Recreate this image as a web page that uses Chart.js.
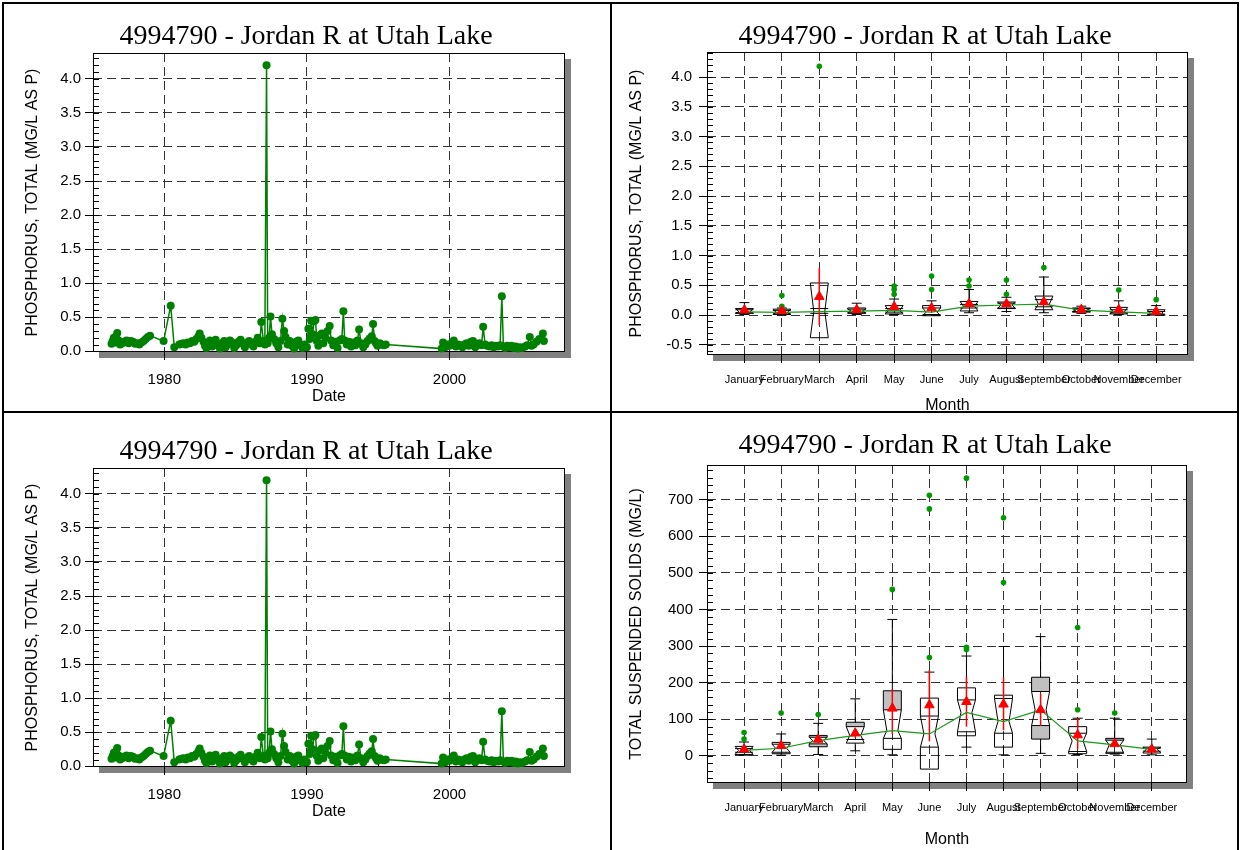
<!DOCTYPE html>
<html>
<head>
<meta charset="utf-8">
<script src="https://cdn.jsdelivr.net/npm/chart.js@4.4.1/dist/chart.umd.min.js"></script>
<style>
  body { margin: 0; background: #fff; width: 1241px; height: 850px; overflow: hidden; position: relative; }
  canvas { position: absolute; }
  .rule { position: absolute; background: #000; z-index: 5; }
</style>
</head>
<body>
<canvas id="tl" width="606" height="408" style="left:3px;top:3px"></canvas>
<canvas id="tr" width="624" height="414" style="left:613px;top:3px"></canvas>
<canvas id="bl" width="606" height="408" style="left:3px;top:418px"></canvas>
<canvas id="br" width="624" height="438" style="left:613px;top:412px"></canvas>

<div class="rule" style="left:2px;top:2px;width:1237px;height:2px"></div>
<div class="rule" style="left:2px;top:2px;width:2px;height:848px"></div>
<div class="rule" style="left:1237px;top:2px;width:2px;height:848px"></div>
<div class="rule" style="left:610px;top:2px;width:2px;height:848px"></div>
<div class="rule" style="left:2px;top:411px;width:1237px;height:2px"></div>

<script>
/* data */
const sampleYears = [
  1976.30, 1976.38, 1976.46, 1976.55, 1976.62, 1976.70, 1976.80, 1976.90, 1977.05, 1977.20, 1977.35, 1977.50, 1977.65, 1977.80, 1977.95, 1978.10, 1978.25, 1978.40, 1978.55, 1978.70, 1978.85, 1979.00, 1979.95, 1980.45, 1980.70,
  1981.05, 1981.20, 1981.35, 1981.50, 1981.65, 1981.80, 1981.95, 1982.10, 1982.25, 1982.40, 1982.48, 1982.60, 1982.75, 1982.85, 1982.95, 1983.05, 1983.20, 1983.35, 1983.45, 1983.60, 1983.75, 1983.90,
  1984.05, 1984.20, 1984.30, 1984.45, 1984.60, 1984.75, 1984.90, 1985.05, 1985.20, 1985.35, 1985.50, 1985.65, 1985.80, 1985.95, 1986.10, 1986.25, 1986.40, 1986.55, 1986.70, 1986.80, 1986.95, 1987.05, 1987.17, 1987.25, 1987.35, 1987.45, 1987.55, 1987.70, 1987.85, 1988.00, 1988.15, 1988.28, 1988.40, 1988.50, 1988.65, 1988.80, 1988.95, 1989.10, 1989.25, 1989.40, 1989.55, 1989.70, 1989.85,
  1990.00, 1990.10, 1990.20, 1990.30, 1990.40, 1990.50, 1990.60, 1990.70, 1990.80, 1990.95, 1991.05, 1991.15, 1991.30, 1991.45, 1991.60, 1991.70, 1991.85, 1992.00, 1992.15, 1992.30, 1992.45, 1992.56, 1992.65, 1992.80, 1992.95, 1993.10, 1993.25, 1993.40, 1993.55, 1993.66, 1993.80, 1993.95, 1994.10, 1994.25, 1994.40, 1994.55, 1994.64, 1994.75, 1994.85, 1994.95, 1995.10, 1995.25, 1995.40, 1995.53,
  1999.45, 1999.55, 1999.70, 1999.85, 2000.00, 2000.15, 2000.30, 2000.45, 2000.60, 2000.75, 2000.90, 2001.05, 2001.20, 2001.35, 2001.50, 2001.65, 2001.80, 2001.95, 2002.10, 2002.25, 2002.36, 2002.50, 2002.65, 2002.80, 2002.95, 2003.10, 2003.25, 2003.40, 2003.55, 2003.67, 2003.78, 2003.90, 2004.05, 2004.20, 2004.35, 2004.50, 2004.65, 2004.80, 2004.95, 2005.10, 2005.30, 2005.45, 2005.63, 2005.75, 2005.90, 2006.10, 2006.30, 2006.55, 2006.62
];
const phosphorus = [
  0.11, 0.15, 0.20, 0.13, 0.22, 0.27, 0.16, 0.10, 0.12, 0.14, 0.16, 0.12, 0.15, 0.14, 0.11, 0.12, 0.10, 0.13, 0.15, 0.18, 0.21, 0.23, 0.15, 0.67, 0.06,
  0.10, 0.11, 0.12, 0.10, 0.13, 0.12, 0.15, 0.14, 0.18, 0.22, 0.26, 0.20, 0.14, 0.08, 0.05, 0.12, 0.16, 0.07, 0.14, 0.17, 0.09, 0.04,
  0.12, 0.15, 0.06, 0.10, 0.16, 0.13, 0.05, 0.09, 0.14, 0.17, 0.11, 0.06, 0.13, 0.15, 0.10, 0.07, 0.14, 0.20, 0.12, 0.43, 0.15, 0.10, 4.20, 0.12, 0.20, 0.51, 0.25, 0.18, 0.12, 0.06, 0.15, 0.48, 0.30, 0.21, 0.10, 0.15, 0.08, 0.04, 0.14, 0.16, 0.09, 0.05, 0.10,
  0.06, 0.33, 0.18, 0.45, 0.25, 0.44, 0.46, 0.15, 0.08, 0.24, 0.26, 0.12, 0.20, 0.30, 0.37, 0.16, 0.09, 0.14, 0.05, 0.16, 0.18, 0.59, 0.16, 0.10, 0.14, 0.07, 0.13, 0.09, 0.16, 0.32, 0.12, 0.06, 0.10, 0.15, 0.19, 0.22, 0.40, 0.15, 0.12, 0.08, 0.12, 0.10, 0.09, 0.10,
  0.04, 0.13, 0.06, 0.10, 0.08, 0.12, 0.16, 0.07, 0.10, 0.09, 0.06, 0.10, 0.12, 0.08, 0.14, 0.15, 0.06, 0.10, 0.12, 0.09, 0.36, 0.10, 0.08, 0.07, 0.09, 0.06, 0.08, 0.07, 0.09, 0.81, 0.07, 0.05, 0.08, 0.06, 0.08, 0.05, 0.07, 0.04, 0.06, 0.05, 0.07, 0.09, 0.21, 0.08, 0.10, 0.14, 0.18, 0.26, 0.15
];
const yearTicks = [1980, 1990, 2000];
const yearMinor = [1985, 1995, 2005];
const phosTicks = [0, 0.5, 1.0, 1.5, 2.0, 2.5, 3.0, 3.5, 4.0];

const monthNames = ['January', 'February', 'March', 'April', 'May', 'June', 'July', 'August', 'September', 'October', 'November', 'December'];
const monthNums = [1, 2, 3, 4, 5, 6, 7, 8, 9, 10, 11, 12];

// total phosphorus by month
const tpQ1      = [0.04, 0.02, 0.03, 0.03, 0.05, 0.01, 0.12, 0.12, 0.14, 0.05, 0.04, 0.015];
const tpQ3      = [0.09, 0.08, 0.11, 0.12, 0.11, 0.16, 0.18, 0.20, 0.26, 0.12, 0.09, 0.06];
const tpNotchLo = [0.03, 0.01, -0.38, 0.04, 0.02, -0.01, 0.07, 0.11, 0.09, 0.06, 0.02, 0.0];
const tpNotchHi = [0.11, 0.10, 0.54, 0.10, 0.16, 0.12, 0.23, 0.22, 0.32, 0.11, 0.13, 0.09];
const tpMedian  = [0.056, 0.045, 0.06, 0.067, 0.078, 0.05, 0.15, 0.17, 0.185, 0.085, 0.056, 0.03];
const tpWhiskLo = [0.01, 0.005, 0.01, 0.01, 0.01, 0.0, 0.04, 0.06, 0.04, 0.03, 0.01, 0.005];
const tpWhiskHi = [0.21, 0.12, 0.20, 0.20, 0.27, 0.24, 0.43, 0.30, 0.64, 0.15, 0.24, 0.16];
const tpMean    = [0.084, 0.07, 0.31, 0.09, 0.14, 0.12, 0.19, 0.19, 0.22, 0.09, 0.09, 0.06];
const tpMeanLo  = [0.06, 0.05, -0.17, 0.07, 0.10, 0.08, 0.15, 0.15, 0.17, 0.08, 0.06, 0.04];
const tpMeanHi  = [0.11, 0.09, 0.79, 0.11, 0.18, 0.16, 0.23, 0.23, 0.27, 0.10, 0.12, 0.08];
const tpShadeHi = [0, 0, 0, 0, 0, 0, 0, 0, 0, 0, 0, 0];
const tpShadeLo = [0, 0, 0, 0, 0, 0, 0, 0, 0, 0, 0, 0];
const tpOutMonth = [2, 2, 3, 5, 5, 5, 6, 6, 7, 7, 8, 8, 9, 11, 12];
const tpOutValue = [0.15, 0.33, 4.18, 0.35, 0.43, 0.49, 0.43, 0.655, 0.49, 0.59, 0.35, 0.59, 0.80, 0.42, 0.26];
const tpTicks = [-0.5, 0, 0.5, 1.0, 1.5, 2.0, 2.5, 3.0, 3.5, 4.0];

// total suspended solids by month
const tssQ1      = [10, 6, 25, 45, 18, -36, 55, 24, 46, 6, 10, 13];
const tssQ3      = [20, 37, 56, 92, 178, 158, 186, 166, 215, 80, 48, 21];
const tssNotchLo = [4, 10, 33, 35, 48, 24, 66, 62, 83, 12, 7, 8];
const tssNotchHi = [26, 32, 51, 80, 126, 109, 153, 157, 176, 62, 43, 24];
const tssMedian  = [15, 21, 42, 56, 69, 60, 119, 94, 126, 41, 30, 18];
const tssWhiskLo = [2, 2, 4, 14, 3, 3, 24, 3, 7, 4, 5, 3];
const tssWhiskHi = [38, 60, 89, 156, 373, 229, 273, 299, 326, 103, 103, 46];
const tssMean    = [18, 28, 45, 62, 130, 139, 148, 141, 126, 57, 33, 18];
const tssMeanLo  = [12, 18, 35, 50, 60, 40, 80, 70, 82, 18, 25, 14];
const tssMeanHi  = [24, 38, 55, 75, 182, 235, 217, 215, 171, 103, 41, 22];
const tssShadeHi = [0, 0, 1, 1, 1, 0, 0, 0, 1, 0, 1, 0];
const tssShadeLo = [0, 0, 1, 0, 0, 0, 0, 0, 1, 0, 0, 0];
const tssOutMonth = [1, 1, 2, 3, 5, 6, 6, 6, 7, 7, 7, 8, 8, 10, 10, 11];
const tssOutValue = [46, 64, 117, 113, 455, 269, 675, 712, 291, 297, 759, 474, 651, 126, 351, 117];
const tssTicks = [0, 100, 200, 300, 400, 500, 600, 700];

const TITLE = '4994790 - Jordan R at Utah Lake';

Chart.defaults.font.family = "'Liberation Sans', Arial, sans-serif";
Chart.defaults.color = '#000';

function titleOpts(bottomPad) {
  return {
    display: true, text: TITLE, color: '#000',
    font: { family: "'Liberation Serif', 'Times New Roman', serif", size: 28, weight: 'normal', lineHeight: 1 },
    padding: { top: 20, bottom: bottomPad }
  };
}

function axis(o) {
  return {
    type: 'linear', min: o.min, max: o.max, position: o.pos,
    afterFit: o.pos === 'bottom' ? s => { s.height = o.size; } : s => { s.width = o.size; },
    afterBuildTicks: s => { s.ticks = o.ticks.map(v => ({ value: v })); },
    ticks: { callback: o.fmt, padding: o.tickPad, font: { size: o.fontSize }, autoSkip: false, maxRotation: 0, color: '#000' },
    grid: { color: '#333', lineWidth: 1, tickLength: 8, tickColor: '#000', tickWidth: 1 },
    border: { display: false, dash: [9, 5] },
    title: { display: true, text: o.title, font: { size: 16 }, padding: o.titlePad, color: '#000' }
  };
}

// empty right-hand axis, only keeps room on the right so the title stays centred
function spacer(width) {
  return {
    type: 'linear', position: 'right',
    afterFit: s => { s.width = width; },
    ticks: { display: false }, grid: { display: false }, border: { display: false }
  };
}

// drop shadow, frame and small inward ticks
function framePlugin(minorStep, xMinor) {
  return {
    id: 'frame',
    beforeDraw(chart) {
      const { ctx, chartArea: a } = chart;
      ctx.save();
      ctx.fillStyle = '#808080';
      ctx.fillRect(a.left + 6, a.top + 6, a.width, a.height);
      ctx.fillStyle = '#fff';
      ctx.fillRect(a.left, a.top, a.width, a.height);
      ctx.restore();
    },
    beforeDatasetsDraw(chart) {
      const { ctx, chartArea: a, scales: { x, y } } = chart;
      ctx.save();
      ctx.strokeStyle = '#000';
      ctx.lineWidth = 1;
      ctx.beginPath();
      for (let k = Math.ceil(y.min / minorStep); k * minorStep <= y.max; k++) {
        const py = Math.round(y.getPixelForValue(k * minorStep)) + 0.5;
        ctx.moveTo(a.left, py);
        ctx.lineTo(a.left + 6, py);
      }
      xMinor.forEach(v => {
        const px = Math.round(x.getPixelForValue(v)) + 0.5;
        ctx.moveTo(px, a.bottom);
        ctx.lineTo(px, a.bottom - 5);
      });
      ctx.stroke();
      ctx.strokeRect(Math.round(a.left) + 0.5, Math.round(a.top) + 0.5, Math.round(a.width) - 1, Math.round(a.height) - 1);
      ctx.restore();
    }
  };
}

// notched boxes, whiskers and red mean intervals
function boxPlugin(s) {
  return {
    id: 'boxes',
    beforeDatasetsDraw(chart) {
      const { ctx, scales: { x, y } } = chart;
      const py = v => y.getPixelForValue(v);
      const half = 9, ind = 3.5, cap = 5;
      ctx.save();
      s.med.forEach((med, i) => {
        const cx = x.getPixelForValue(monthNums[i]);
        const L = cx - half, R = cx + half;
        const q1 = s.q1[i], q3 = s.q3[i], nl = s.nLo[i], nh = s.nHi[i];

        ctx.fillStyle = '#c0c0c0';
        if (s.shadeHi[i]) ctx.fillRect(L, py(Math.max(q3, nh)), 2 * half, Math.abs(py(q3) - py(nh)));
        if (s.shadeLo[i]) ctx.fillRect(L, py(Math.max(q1, nl)), 2 * half, Math.abs(py(q1) - py(nl)));

        ctx.strokeStyle = '#000';
        ctx.lineWidth = 1;
        ctx.beginPath();
        [[L, 1], [R, -1]].forEach(([ex, dir]) => {
          if (q3 > nh) { ctx.moveTo(ex, py(q3)); ctx.lineTo(ex, py(nh)); } else ctx.moveTo(ex, py(nh));
          ctx.lineTo(ex + dir * ind, py(med));
          ctx.lineTo(ex, py(nl));
          if (q1 < nl) ctx.lineTo(ex, py(q1));
        });
        [q3, nh, nl, q1].forEach(v => { ctx.moveTo(L, py(v)); ctx.lineTo(R, py(v)); });

        const top = Math.max(q3, nh), bot = Math.min(q1, nl);
        if (s.wHi[i] > top) {
          ctx.moveTo(cx, py(top)); ctx.lineTo(cx, py(s.wHi[i]));
          ctx.moveTo(cx - cap, py(s.wHi[i])); ctx.lineTo(cx + cap, py(s.wHi[i]));
        }
        if (s.wLo[i] < bot) {
          ctx.moveTo(cx, py(bot)); ctx.lineTo(cx, py(s.wLo[i]));
          ctx.moveTo(cx - cap, py(s.wLo[i])); ctx.lineTo(cx + cap, py(s.wLo[i]));
        }
        ctx.stroke();

        ctx.strokeStyle = '#ff0000';
        ctx.lineWidth = 1.5;
        ctx.beginPath();
        ctx.moveTo(cx, py(s.mHi[i]));
        ctx.lineTo(cx, py(s.mLo[i]));
        ctx.stroke();
      });
      ctx.restore();
    }
  };
}

const common = {
  responsive: false, animation: false, events: [],
  layout: { padding: 0 }
};

function seriesChart(id) {
  return new Chart(document.getElementById(id), {
    type: 'line',
    data: {
      datasets: [{
        data: sampleYears.map((t, i) => ({ x: t, y: phosphorus[i] })),
        borderColor: '#008000', backgroundColor: '#008000',
        borderWidth: 1.5, pointRadius: 4, pointBorderWidth: 0, tension: 0, clip: false
      }]
    },
    options: {
      ...common,
      plugins: { legend: { display: false }, tooltip: { enabled: false }, title: titleOpts(2) },
      scales: {
        x: axis({ min: 1975.0, max: 2008.1, pos: 'bottom', size: 59, ticks: yearTicks, fmt: v => String(v), tickPad: 11, fontSize: 15, title: 'Date', titlePad: 4.4 }),
        y: axis({ min: -0.01, max: 4.38, pos: 'left', size: 90, ticks: phosTicks, fmt: v => v.toFixed(1), tickPad: 4, fontSize: 15, title: 'PHOSPHORUS, TOTAL (MG/L AS P)', titlePad: 20.4 }),
        pad: spacer(44)
      }
    },
    plugins: [framePlugin(0.1, yearMinor)]
  });
}

function boxChart(id, c) {
  return new Chart(document.getElementById(id), {
    type: 'scatter',
    data: {
      datasets: [
        { data: monthNums.map((m, i) => ({ x: m, y: c.mean[i] })), pointStyle: 'triangle', pointRadius: 5.5, backgroundColor: '#ff0000', borderColor: '#ff0000', borderWidth: 1 },
        { data: c.outMonth.map((m, i) => ({ x: m, y: c.outValue[i] })), pointRadius: 2.8, backgroundColor: '#009a00', borderColor: '#009a00', borderWidth: 0 },
        { type: 'line', data: monthNums.map((m, i) => ({ x: m, y: c.med[i] })), borderColor: '#1a9a1a', borderWidth: 1.2, pointRadius: 0, tension: 0 }
      ]
    },
    options: {
      ...common,
      plugins: { legend: { display: false }, tooltip: { enabled: false }, title: titleOpts(c.titleBottom) },
      scales: {
        x: axis({ min: 0, max: c.xMax, pos: 'bottom', size: c.xH, ticks: monthNums, fmt: v => monthNames[v - 1], tickPad: 10.4, fontSize: 11, title: 'Month', titlePad: c.xTitlePad }),
        y: axis({ min: c.yMin, max: c.yMax, pos: 'left', size: 94, ticks: c.ticks, fmt: c.fmt, tickPad: c.yTickPad, fontSize: 15, title: c.yTitle, titlePad: 14.4 }),
        pad: spacer(c.padW)
      }
    },
    plugins: [framePlugin(c.minor, []), boxPlugin(c)]
  });
}

seriesChart('tl');
seriesChart('bl');

boxChart('tr', {
  q1: tpQ1, q3: tpQ3, nLo: tpNotchLo, nHi: tpNotchHi, med: tpMedian,
  wLo: tpWhiskLo, wHi: tpWhiskHi, mean: tpMean, mLo: tpMeanLo, mHi: tpMeanHi,
  shadeHi: tpShadeHi, shadeLo: tpShadeLo, outMonth: tpOutMonth, outValue: tpOutValue,
  ticks: tpTicks, fmt: v => v.toFixed(1), yMin: -0.67, yMax: 4.42, minor: 0.1,
  yTitle: 'PHOSPHORUS, TOTAL (MG/L AS P)', yTickPad: 7,
  xMax: 12.85, xH: 62, xTitlePad: 1.7, padW: 49, titleBottom: 1
});

boxChart('br', {
  q1: tssQ1, q3: tssQ3, nLo: tssNotchLo, nHi: tssNotchHi, med: tssMedian,
  wLo: tssWhiskLo, wHi: tssWhiskHi, mean: tssMean, mLo: tssMeanLo, mHi: tssMeanHi,
  shadeHi: tssShadeHi, shadeLo: tssShadeLo, outMonth: tssOutMonth, outValue: tssOutValue,
  ticks: tssTicks, fmt: v => String(v), yMin: -74, yMax: 795, minor: 20,
  yTitle: 'TOTAL SUSPENDED SOLIDS (MG/L)', yTickPad: 6,
  xMax: 12.95, xH: 67, xTitlePad: 0.4, padW: 50, titleBottom: 5
});
</script>
</body>
</html>
